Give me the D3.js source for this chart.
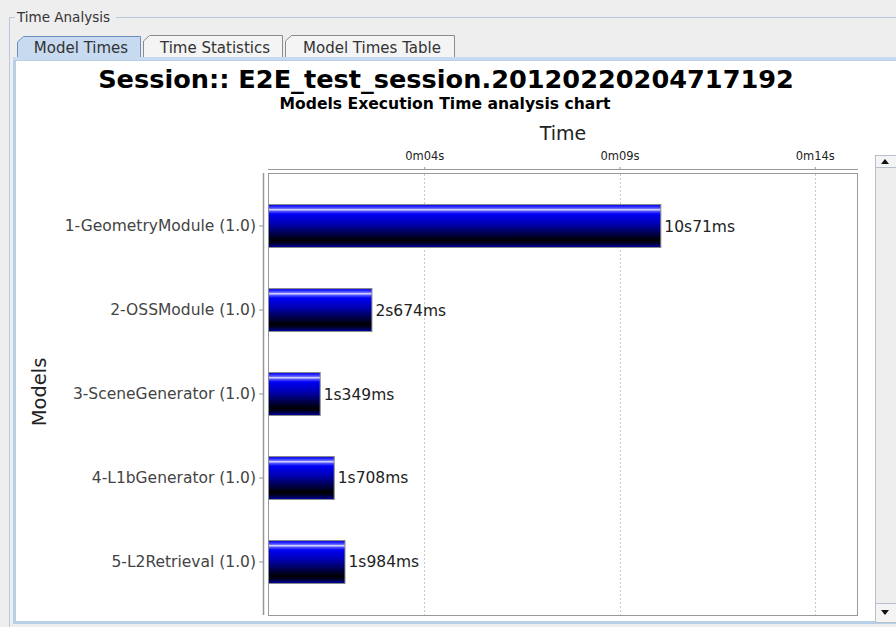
<!DOCTYPE html>
<html>
<head>
<meta charset="utf-8">
<script src="https://cdn.jsdelivr.net/npm/d3@7"></script>
<style>
  html, body { margin: 0; padding: 0; background: #eeeeee; }
  svg { display: block; font-family: "DejaVu Sans", sans-serif; }
</style>
</head>
<body>
<svg id="chart" width="896" height="627"></svg>
<script>
// Execution time per model, in milliseconds
const models = [
  "1-GeometryModule (1.0)",
  "2-OSSModule (1.0)",
  "3-SceneGenerator (1.0)",
  "4-L1bGenerator (1.0)",
  "5-L2Retrieval (1.0)"
];
const timesMs = [10071, 2674, 1349, 1708, 1984];
const timeLabels = ["10s71ms", "2s674ms", "1s349ms", "1s708ms", "1s984ms"];
const tickValuesMs = [4000, 9000, 14000];
const tickLabels = ["0m04s", "0m09s", "0m14s"];
const tabNames = ["Model Times", "Time Statistics", "Model Times Table"];

const svg = d3.select("#chart");

// ---- window chrome: titled border, tabs, content panel ----
svg.append("rect").attr("x", 0).attr("y", 0).attr("width", 896).attr("height", 627).attr("fill", "#eeeeee");

// titled border "Time Analysis"
svg.append("path")
  .attr("d", "M15,17.5 H9.5 V627 M116,17.5 H896")
  .attr("fill", "none").attr("stroke", "#b8c8dc").attr("stroke-width", 1);
svg.append("text").attr("x", 17).attr("y", 22).attr("font-size", 13.5).attr("fill", "#333")
  .text("Time Analysis");

// content panel
svg.append("rect").attr("x", 14.5).attr("y", 59.5).attr("width", 890).attr("height", 563)
  .attr("fill", "#ffffff").attr("stroke", "#b8cfe8").attr("stroke-width", 3);
svg.append("rect").attr("x", 16).attr("y", 61).attr("width", 880).attr("height", 560).attr("fill", "#ffffff");

// tabs
const tabX = [17, 143, 285];
const tabW = [124, 140, 170];
tabNames.forEach((name, i) => {
  const x = tabX[i], w = tabW[i], sel = i === 0;
  const y0 = sel ? 36 : 35, y1 = 58;
  svg.append("path")
    .attr("d", `M${x + 0.5},${y1} V${y0 + 6} L${x + 6.5},${y0 + 0.5} H${x + w - 0.5} V${y1}`)
    .attr("fill", sel ? "#c7daf0" : "#f4f4f4")
    .attr("stroke", sel ? "#6e8ec0" : "#8c8c8c").attr("stroke-width", 1);
  svg.append("text").attr("x", x + w / 2 + 2).attr("y", 53).attr("text-anchor", "middle")
    .attr("font-size", 15).attr("fill", "#333").text(name);
});
svg.append("rect").attr("x", 13).attr("y", 57).attr("width", 883).attr("height", 3).attr("fill", "#c7daf0");

// scrollbar on the right
const sb = svg.append("g");
sb.append("rect").attr("x", 875.5).attr("y", 155.5).attr("width", 21).attr("height", 467)
  .attr("fill", "#eeeeee").attr("stroke", "#b8c0cc");
sb.append("rect").attr("x", 875.5).attr("y", 155.5).attr("width", 21).attr("height", 12)
  .attr("fill", "#f4f4f4").attr("stroke", "#b8c0cc");
sb.append("rect").attr("x", 875.5).attr("y", 603.5).attr("width", 21).attr("height", 19)
  .attr("fill", "#f4f4f4").attr("stroke", "#b8c0cc");
sb.append("path").attr("d", "M881,164 L885,159 L889,164 Z").attr("fill", "#111");
sb.append("path").attr("d", "M881,610 L885,615 L889,610 Z").attr("fill", "#111");

// ---- chart ----
const plot = { left: 268, right: 858, top: 173, bottom: 615 };

const x = d3.scaleLinear()
  .domain([0, d3.max(timesMs) * 1.5])
  .range([plot.left, plot.right]);

const y = d3.scaleBand()
  .domain(models)
  .range([plot.top, plot.bottom])
  .paddingInner(0.476)
  .paddingOuter(0.369);

// bar gradient: blue with a light highlight near the top, darkening to black
const defs = svg.append("defs");
const grad = defs.append("linearGradient").attr("id", "barGrad")
  .attr("x1", 0).attr("y1", 0).attr("x2", 0).attr("y2", 1);
[
  [0.00, "#1010d0"], [0.04, "#1a1aff"], [0.09, "#6060ff"], [0.12, "#dcdcff"],
  [0.16, "#5050ff"], [0.22, "#0000f5"], [0.45, "#0000b0"], [0.70, "#000040"],
  [0.84, "#000000"], [0.92, "#00003a"], [1.00, "#0000b0"]
].forEach(([o, c]) => grad.append("stop").attr("offset", o).attr("stop-color", c));

// plot background + border
svg.append("rect")
  .attr("x", plot.left + 0.5).attr("y", plot.top + 0.5)
  .attr("width", plot.right - plot.left - 1).attr("height", plot.bottom - plot.top)
  .attr("fill", "#ffffff").attr("stroke", "#999999");

// gridlines
svg.append("g").selectAll("line").data(tickValuesMs).join("line")
  .attr("x1", d => Math.round(x(d)) + 0.5).attr("x2", d => Math.round(x(d)) + 0.5)
  .attr("y1", plot.top + 1).attr("y2", plot.bottom)
  .attr("stroke", "#c8c8c8").attr("stroke-dasharray", "2,2");

// top axis
const xAxis = d3.axisTop(x)
  .tickValues(tickValuesMs)
  .tickFormat((d, i) => tickLabels[i])
  .tickSize(2).tickSizeOuter(0).tickPadding(7);
const gx = svg.append("g").attr("transform", `translate(0,${plot.top - 4})`).call(xAxis);
gx.select(".domain").attr("stroke", "#999999").attr("d", `M${plot.left},0.5H${plot.right}`);
gx.selectAll(".tick line").attr("stroke", "#999999");
gx.selectAll(".tick text").attr("font-size", 11.5).attr("fill", "#222")
  .attr("font-family", "DejaVu Sans, sans-serif");

// left axis
const yAxis = d3.axisLeft(y).tickSize(4).tickSizeOuter(0).tickPadding(3);
const gy = svg.append("g").attr("transform", `translate(${plot.left - 5},0)`).call(yAxis);
gy.select(".domain").attr("stroke", "#999999")
  .attr("d", `M0.5,${plot.top}V${plot.bottom}`).attr("stroke-width", 1.5);
gy.selectAll(".tick line").attr("stroke", "#999999");
gy.selectAll(".tick text").attr("font-size", 15.5).attr("fill", "#444")
  .attr("font-family", "DejaVu Sans, sans-serif");

// bars
svg.append("g").selectAll("rect").data(models).join("rect")
  .attr("x", x(0) + 0.5)
  .attr("y", d => y(d) + 0.5)
  .attr("width", (d, i) => x(timesMs[i]) - x(0) - 1)
  .attr("height", y.bandwidth() - 1)
  .attr("fill", "url(#barGrad)")
  .attr("stroke", "#8a8a8a").attr("stroke-width", 1);

// value labels
svg.append("g").selectAll("text").data(models).join("text")
  .attr("x", (d, i) => x(timesMs[i]) + 3)
  .attr("y", d => y(d) + y.bandwidth() / 2 + 5.5)
  .attr("font-size", 15.5).attr("fill", "#222")
  .text((d, i) => timeLabels[i]);

// titles
svg.append("text").attr("x", 446).attr("y", 88).attr("text-anchor", "middle")
  .attr("font-size", 25.6).attr("font-weight", "bold").attr("fill", "#000")
  .text("Session:: E2E_test_session.20120220204717192");
svg.append("text").attr("x", 445).attr("y", 109).attr("text-anchor", "middle")
  .attr("font-size", 15.6).attr("font-weight", "bold").attr("fill", "#000")
  .text("Models Execution Time analysis chart");
svg.append("text").attr("x", 563).attr("y", 140).attr("text-anchor", "middle")
  .attr("font-size", 19).attr("fill", "#222")
  .text("Time");
svg.append("text")
  .attr("transform", `translate(46,392) rotate(-90)`)
  .attr("text-anchor", "middle")
  .attr("font-size", 19.5).attr("fill", "#222")
  .text("Models");
</script>
</body>
</html>
